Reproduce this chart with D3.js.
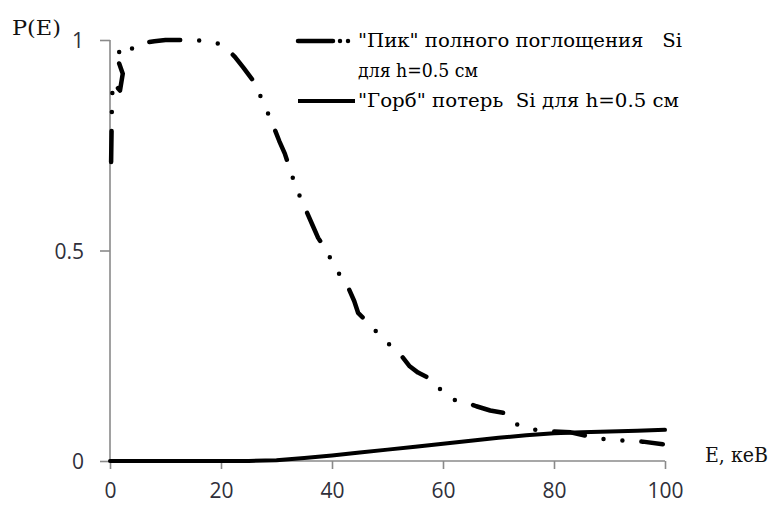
<!DOCTYPE html>
<html>
<head>
<meta charset="utf-8">
<script src="https://cdn.jsdelivr.net/npm/d3@7"></script>
<style>
  html, body { margin: 0; padding: 0; background: #fff; }
  svg { display: block; }
</style>
</head>
<body>
<svg id="chart" width="779" height="509"></svg>
<script>
// Energy grid and tick labels
const xTicks = [0, 20, 40, 60, 80, 100];
const yTicks = [0, 0.5, 1];
const yTickLabels = ["0", "0.5", "1"];

// "Пик" полного поглощения Si, h = 0.5 см : [E (кэВ), P(E)]
const peakE = [0.2, 0.3, 0.35, 0.5, 1.8, 2.3, 1.5, 1.4, 2.0, 3.2, 4, 5, 6, 8, 10, 15, 19, 21, 22.5, 24, 26, 27.5, 29, 30.5, 31.5, 32.5, 33.5, 35, 36.5, 37.5, 39, 40.5, 42, 43, 44, 44.7, 46, 47.5, 49, 51, 52.5, 54, 55.5, 57, 58.5, 60, 62, 64, 66, 68.5, 71.5, 73.5, 76, 78, 80, 83, 86.5, 90, 93.5, 96, 99.6];
const peakP = [0.71, 0.80, 0.85, 0.90, 0.88, 0.92, 0.95, 0.98, 0.96, 0.97, 0.98, 0.99, 0.993, 0.997, 1.0, 1.0, 0.995, 0.98, 0.96, 0.935, 0.90, 0.855, 0.81, 0.76, 0.73, 0.69, 0.65, 0.605, 0.56, 0.53, 0.50, 0.46, 0.43, 0.41, 0.38, 0.352, 0.335, 0.315, 0.29, 0.27, 0.25, 0.225, 0.21, 0.20, 0.19, 0.16, 0.145, 0.14, 0.13, 0.12, 0.113, 0.085, 0.075, 0.072, 0.07, 0.068, 0.058, 0.05, 0.048, 0.046, 0.040];

// "Горб" потерь Si, h = 0.5 см
const humpE = [0, 5, 10, 15, 20, 25, 30, 35, 40, 45, 50, 55, 60, 65, 70, 75, 80, 85, 90, 95, 100];
const humpP = [0, 0, 0, 0, 0, 0, 0.002, 0.007, 0.013, 0.020, 0.027, 0.034, 0.041, 0.048, 0.055, 0.061, 0.066, 0.068, 0.070, 0.072, 0.074];

const svg = d3.select("#chart");
const x = d3.scaleLinear().domain([0, 100]).range([110, 665]);
const y = d3.scaleLinear().domain([0, 1]).range([461, 40]);

const axisColor = "#8a8a8a";
const tickFont = "'Open Sans', 'Noto Sans', sans-serif";
const serif = "'DejaVu Serif', 'Liberation Serif', serif";

// Axes
const yAxis = svg.append("g")
  .attr("transform", `translate(${x(0)},0)`)
  .call(d3.axisLeft(y).tickValues(yTicks).tickSize(10).tickPadding(16)
    .tickFormat((d, i) => yTickLabels[i]));
const xAxis = svg.append("g")
  .attr("transform", `translate(0,${y(0)})`)
  .call(d3.axisBottom(x).tickValues(xTicks).tickSize(8).tickPadding(14)
    .tickFormat(d3.format("d")));

[xAxis, yAxis].forEach(g => {
  g.select(".domain").remove();
  g.selectAll(".tick line").attr("stroke", axisColor).attr("stroke-width", 1.6);
  g.selectAll(".tick text").attr("fill", "#2f2f3a")
    .style("font-family", tickFont).style("font-size", "21px");
});
yAxis.selectAll(".tick text").attr("dy", "0.36em");
// plain axis lines without outer end caps
svg.append("line").attr("x1", x(0)).attr("x2", x(0)).attr("y1", y(1)).attr("y2", y(0))
  .attr("stroke", axisColor).attr("stroke-width", 1.6);
svg.append("line").attr("x1", x(0)).attr("x2", x(100)).attr("y1", y(0)).attr("y2", y(0))
  .attr("stroke", axisColor).attr("stroke-width", 1.6);

// Series
const line = d3.line().x(d => x(d[0])).y(d => y(d[1]));
const humpData = humpE.map((e, i) => [e, humpP[i]]);
const peakData = peakE.map((e, i) => [e, peakP[i]]);

svg.append("path").datum(humpData).attr("d", line)
  .attr("fill", "none").attr("stroke", "#000").attr("stroke-width", 4)
  .attr("stroke-linejoin", "round").attr("stroke-linecap", "round");

svg.append("path").datum(peakData).attr("d", line)
  .attr("fill", "none").attr("stroke", "#000").attr("stroke-width", 4.5)
  .attr("stroke-linejoin", "round").attr("stroke-linecap", "round")
  .attr("stroke-dasharray", "31 19 0 19 0 19");

// Axis titles
svg.append("text").attr("x", 12).attr("y", 35).text("P(E)")
  .style("font-family", serif).style("font-size", "21px").attr("fill", "#111")
  .attr("textLength", 49).attr("lengthAdjust", "spacingAndGlyphs");
svg.append("text").attr("x", 705).attr("y", 462).text("E, кеВ")
  .style("font-family", serif).style("font-size", "21px").attr("fill", "#111")
  .attr("textLength", 63).attr("lengthAdjust", "spacingAndGlyphs");

// Legend
const lg = svg.append("g");
lg.append("line").attr("x1", 298).attr("x2", 350).attr("y1", 41).attr("y2", 41)
  .attr("stroke", "#000").attr("stroke-width", 4.5).attr("stroke-linecap", "round")
  .attr("stroke-dasharray", "35 7 0 8 0 100");
lg.append("line").attr("x1", 298).attr("x2", 355).attr("y1", 101).attr("y2", 101)
  .attr("stroke", "#000").attr("stroke-width", 4);
const legendText = [
  { t: "\"Пик\" полного поглощения   Si", y: 47, w: 324 },
  { t: "для h=0.5 см", y: 77, w: 120 },
  { t: "\"Горб\" потерь  Si для h=0.5 см", y: 107, w: 321 }
];
lg.selectAll("text.leg").data(legendText).join("text")
  .attr("class", "leg")
  .attr("x", 358).attr("y", d => d.y).text(d => d.t)
  .attr("textLength", d => d.w).attr("lengthAdjust", "spacingAndGlyphs")
  .style("font-family", serif).style("font-size", "19px").attr("fill", "#000")
  .style("white-space", "pre");
</script>
</body>
</html>
